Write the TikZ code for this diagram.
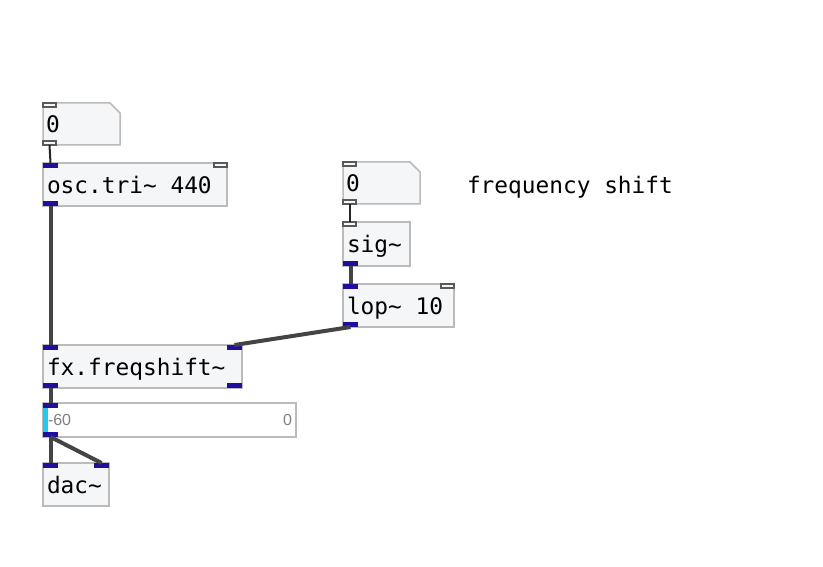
\documentclass[tikz,border=0pt]{standalone}
\usepackage{fontspec}
\setmonofont{DejaVu Sans Mono}
\setsansfont{Liberation Sans}
\definecolor{pdfill}{HTML}{F5F6F8}
\definecolor{pdedge}{HTML}{BBBBBB}
\definecolor{pdport}{HTML}{1F0F9E}
\definecolor{pdwire}{HTML}{444444}
\definecolor{pdmeter}{HTML}{22C8F0}
\newcommand{\tld}{{\char"7E}}
\newcommand{\pdsp}{\hspace{0.602em}}
\begin{document}
\begin{tikzpicture}[x=1pt, y=-1pt, inner sep=0pt, outer sep=0pt,
	pdfont/.style={font=\ttfamily\fontsize{22.8}{26}\selectfont},
	obj/.style={rectangle, draw=pdedge, line width=1.5, fill=pdfill, minimum height=43, anchor=north west, inner xsep=4, text depth=0, pdfont},
	numbox/.style={rectangle, minimum width=77, minimum height=42, anchor=north west},
	numedge/.style={draw=pdedge, line width=1.5, fill=pdfill},
	numval/.style={anchor=base west, pdfont},
	sigport/.style={rectangle, fill=pdport, minimum width=15, minimum height=5},
	ctlport/.style={rectangle, draw=gray!70!black, fill=pdfill, line width=1.2, minimum width=13, minimum height=4},
	sigwire/.style={draw=pdwire, line width=4},
	ctlwire/.style={draw=gray!30!black, line width=2}]
\fill[white] (0,0) rectangle (823,567);
\useasboundingbox (0,0) rectangle (823,567);
% left column
\node[numbox] (num1) at (43,103) {};
\path[numedge] (num1.south west) -- (num1.north west) -- ([xshift=-10]num1.north east) -- ([yshift=-10]num1.north east) -- (num1.south east) -- cycle;
\node[numval] (num1-val) at (46,133) {0};
\node[ctlport, anchor=north west] (num1-in) at (num1.north west) {};
\node[ctlport, anchor=south west] (num1-out) at (num1.south west) {};
\node[obj, text width=176] (osc) at (43,163) {osc.tri\tld\pdsp440};
\node[sigport, anchor=north west] (osc-in) at (osc.north west) {};
\node[ctlport, anchor=north east] (osc-in2) at (osc.north east) {};
\node[sigport, anchor=south west] (osc-out) at (osc.south west) {};
% right column
\node[numbox] (num2) at (343,162) {};
\path[numedge] (num2.south west) -- (num2.north west) -- ([xshift=-10]num2.north east) -- ([yshift=-10]num2.north east) -- (num2.south east) -- cycle;
\node[numval] (num2-val) at (346,192) {0};
\node[ctlport, anchor=north west] (num2-in) at (num2.north west) {};
\node[ctlport, anchor=south west] (num2-out) at (num2.south west) {};
\node[anchor=base west, pdfont] (note) at (467,194) {frequency shift};
\node[obj, text width=59, minimum height=44] (sig) at (343,222) {sig\tld};
\node[ctlport, anchor=north west] (sig-in) at (sig.north west) {};
\node[sigport, anchor=south west] (sig-out) at (sig.south west) {};
\node[obj, text width=103] (lop) at (343,284) {lop\tld\pdsp10};
\node[sigport, anchor=north west] (lop-in) at (lop.north west) {};
\node[ctlport, anchor=north east] (lop-in2) at (lop.north east) {};
\node[sigport, anchor=south west] (lop-out) at (lop.south west) {};
% shifter, meter, output
\node[obj, text width=191] (fx) at (43,345) {fx.freqshift\tld};
\node[sigport, anchor=north west] (fx-in) at (fx.north west) {};
\node[sigport, anchor=north east] (fx-in2) at (fx.north east) {};
\node[sigport, anchor=south west] (fx-out) at (fx.south west) {};
\node[sigport, anchor=south east] (fx-out2) at (fx.south east) {};
\node[rectangle, draw=pdedge, line width=1.5, fill=white, minimum width=253, minimum height=34, anchor=north west] (vu) at (43,403) {};
\node[fill=pdmeter, minimum width=5, minimum height=24, anchor=west] (vu-bar) at (vu.west) {};
\node[anchor=west, text=gray, font=\sffamily\fontsize{16}{18}\selectfont] (vu-min) at ([xshift=5]vu.west) {-60};
\node[anchor=east, text=gray, font=\sffamily\fontsize{16}{18}\selectfont] (vu-max) at ([xshift=-4]vu.east) {0};
\node[sigport, anchor=north west] (vu-in) at (vu.north west) {};
\node[sigport, anchor=south west] (vu-out) at (vu.south west) {};
\node[obj, text width=58] (dac) at (43,463) {dac\tld};
\node[sigport, anchor=north west] (dac-in) at (dac.north west) {};
\node[sigport, anchor=north east] (dac-in2) at (dac.north east) {};
% wires
\draw[ctlwire] (num1-out.south) -- (osc-in.north);
\draw[sigwire] (osc-out.south) -- (fx-in.north);
\draw[ctlwire] (num2-out.south) -- (sig-in.north);
\draw[sigwire] (sig-out.south) -- (lop-in.north);
\draw[sigwire] (lop-out.south) -- (fx-in2.north);
\draw[sigwire] (fx-out.south) -- (vu-in.north);
\draw[sigwire] (vu-out.south) -- (dac-in.north);
\draw[sigwire] (vu-out.south) -- (dac-in2.north);
\end{tikzpicture}
\end{document}
